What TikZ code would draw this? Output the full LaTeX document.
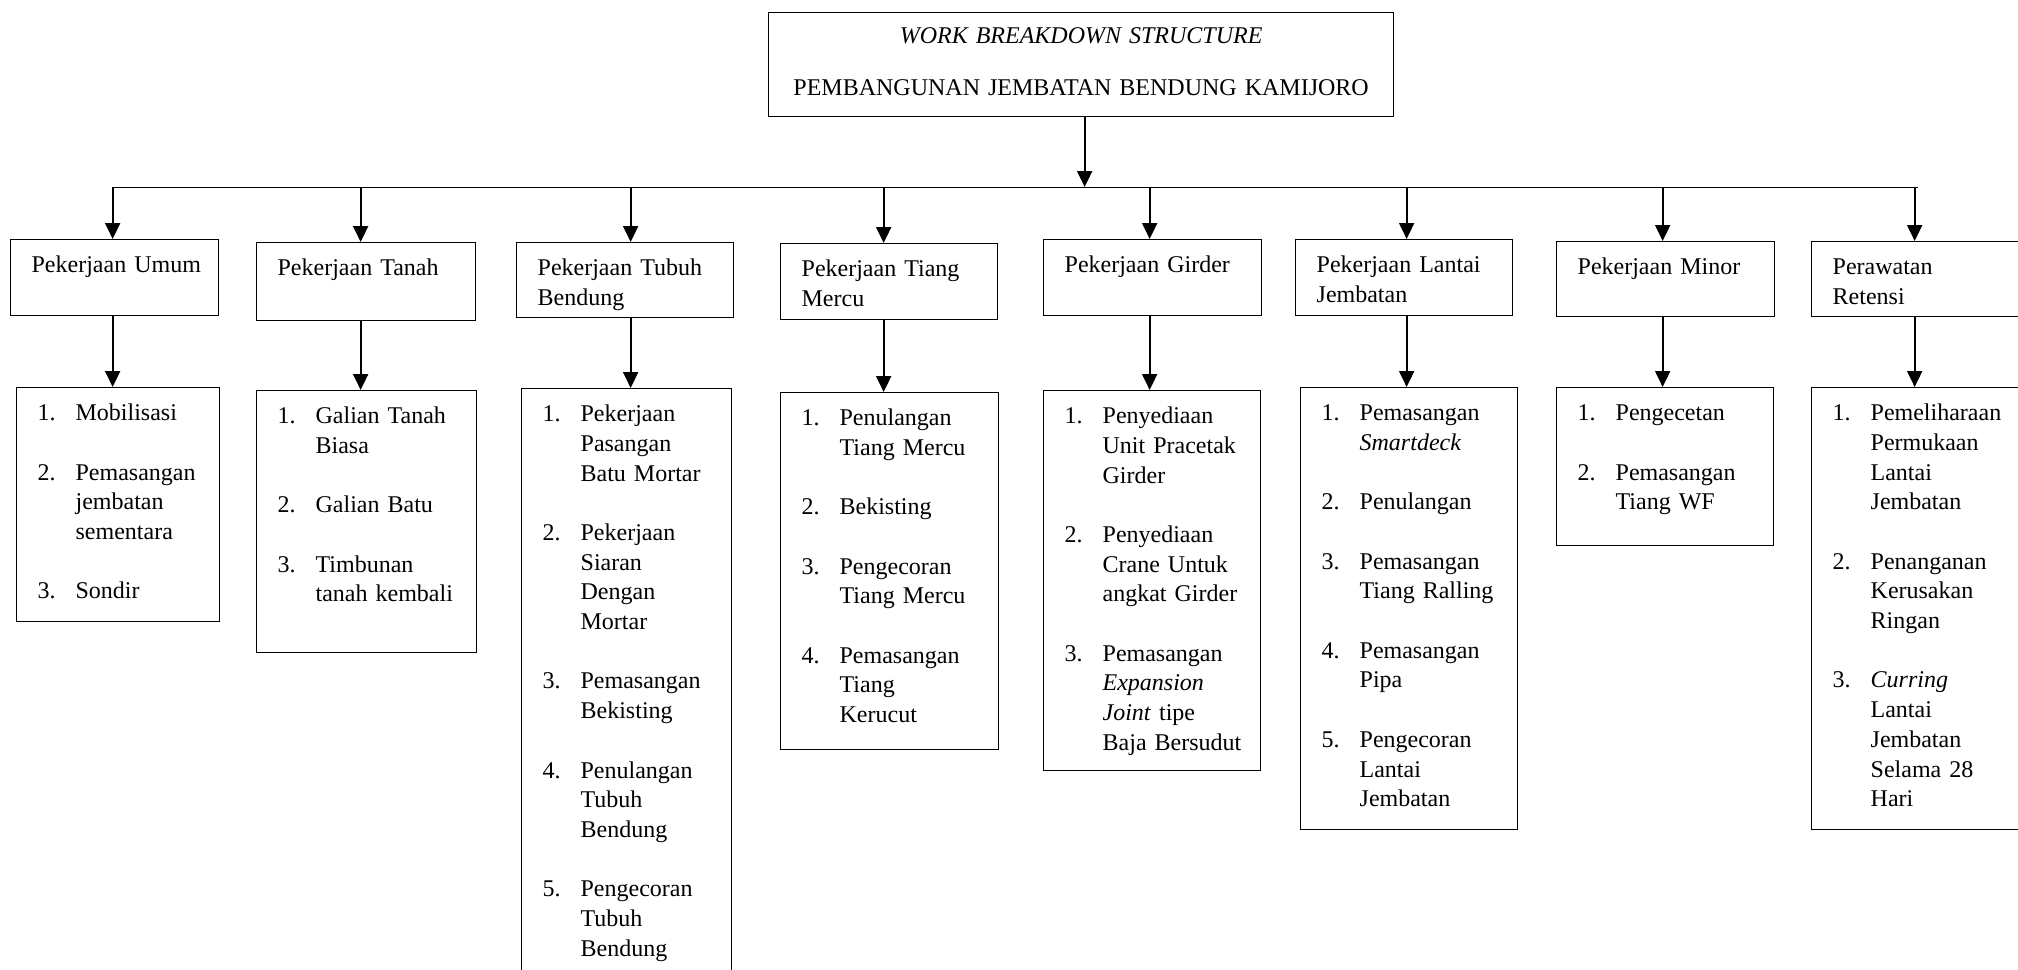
\documentclass[tikz,border=0pt]{standalone}
\usepackage{fontspec}
\setmainfont{Liberation Serif}
\usetikzlibrary{arrows.meta}
\newcommand{\butir}[1]{\makebox[19pt][l]{#1.}}
\newcommand{\lanjut}{\hspace*{19pt}}
\newcommand{\jarak}{14.85pt}

\begin{document}
\begin{tikzpicture}[x=0.5pt,y=-0.5pt,
  font=\fontsize{12pt}{14.85pt}\selectfont,
  kotak/.style={draw, line width=0.65pt, anchor=north west, inner sep=0pt,
    align=left, text height=16.5pt, execute at begin node={\leftskip=10.5pt}},
  panah/.style={line width=1pt, -{Triangle[length=8pt,width=7.5pt]}},
  garis/.style={line width=0.5pt}]
%工作分解結構: 上層方框用座標, 下層清單接在各方框下面
\clip (0,0) rectangle (2018,969);

\node[draw, line width=0.65pt, anchor=north west, inner sep=0pt, align=center,
  text width=312.5pt, text height=15.5pt, text depth=36.5pt] (judul) at (768,12)
  {\textit{WORK BREAKDOWN STRUCTURE}\\[11.15pt]PEMBANGUNAN JEMBATAN BENDUNG KAMIJORO};
\coordinate (cabang) at (0,187);

\foreach \n/\x/\y/\w/\h/\t in
{ umum/10/239/208/76/{Pekerjaan Umum},
  tanah/256/242/219/78/{Pekerjaan Tanah},
  tubuh/516/242/217/75/{Pekerjaan Tubuh\\Bendung},
  mercu/780/243/217/76/{Pekerjaan Tiang\\Mercu},
  girder/1043/239/218/76/{Pekerjaan Girder},
  lantai/1295/239/217/76/{Pekerjaan Lantai\\Jembatan},
  minor/1556/241/218/75/{Pekerjaan Minor},
  retensi/1811/241/216/75/{Perawatan\\Retensi}
}
{
  \pgfmathsetmacro\lebar{\w/2}
  \pgfmathsetmacro\dalam{(\h-33)/2}
  \node[kotak, text width=\lebar pt, text depth=\dalam pt] (\n) at (\x,\y) {\t};
};

\node[kotak, text width=101.5pt, text depth=100.5pt] (umum-isi) at (16,387)
  {\butir{1}Mobilisasi\\[\jarak]
   \butir{2}Pemasangan\\ \lanjut jembatan\\ \lanjut sementara\\[\jarak]
   \butir{3}Sondir};
\node[kotak, text width=110pt, text depth=114.5pt] (tanah-isi) at (256,390)
  {\butir{1}Galian Tanah\\ \lanjut Biasa\\[\jarak]
   \butir{2}Galian Batu\\[\jarak]
   \butir{3}Timbunan\\ \lanjut tanah kembali};
\node[kotak, text width=105pt, text depth=283.5pt] (tubuh-isi) at (521,388)
  {\butir{1}Pekerjaan\\ \lanjut Pasangan\\ \lanjut Batu Mortar\\[\jarak]
   \butir{2}Pekerjaan\\ \lanjut Siaran\\ \lanjut Dengan\\ \lanjut Mortar\\[\jarak]
   \butir{3}Pemasangan\\ \lanjut Bekisting\\[\jarak]
   \butir{4}Penulangan\\ \lanjut Tubuh\\ \lanjut Bendung\\[\jarak]
   \butir{5}Pengecoran\\ \lanjut Tubuh\\ \lanjut Bendung};
\node[kotak, text width=109pt, text depth=162pt] (mercu-isi) at (780,392)
  {\butir{1}Penulangan\\ \lanjut Tiang Mercu\\[\jarak]
   \butir{2}Bekisting\\[\jarak]
   \butir{3}Pengecoran\\ \lanjut Tiang Mercu\\[\jarak]
   \butir{4}Pemasangan\\ \lanjut Tiang\\ \lanjut Kerucut};
\node[kotak, text width=108.5pt, text depth=173.5pt] (girder-isi) at (1043,390)
  {\butir{1}Penyediaan\\ \lanjut Unit Pracetak\\ \lanjut Girder\\[\jarak]
   \butir{2}Penyediaan\\ \lanjut Crane Untuk\\ \lanjut angkat Girder\\[\jarak]
   \butir{3}Pemasangan\\ \lanjut\textit{Expansion}\\ \lanjut\textit{Joint} tipe\\ \lanjut Baja Bersudut};
\node[kotak, text width=108.5pt, text depth=204.5pt] (lantai-isi) at (1300,387)
  {\butir{1}Pemasangan\\ \lanjut\textit{Smartdeck}\\[\jarak]
   \butir{2}Penulangan\\[\jarak]
   \butir{3}Pemasangan\\ \lanjut Tiang Ralling\\[\jarak]
   \butir{4}Pemasangan\\ \lanjut Pipa\\[\jarak]
   \butir{5}Pengecoran\\ \lanjut Lantai\\ \lanjut Jembatan};
\node[kotak, text width=108.5pt, text depth=62.5pt] (minor-isi) at (1556,387)
  {\butir{1}Pengecetan\\[\jarak]
   \butir{2}Pemasangan\\ \lanjut Tiang WF};
\node[kotak, text width=108pt, text depth=204.5pt] (retensi-isi) at (1811,387)
  {\butir{1}Pemeliharaan\\ \lanjut Permukaan\\ \lanjut Lantai\\ \lanjut Jembatan\\[\jarak]
   \butir{2}Penanganan\\ \lanjut Kerusakan\\ \lanjut Ringan\\[\jarak]
   \butir{3}\textit{Curring}\\ \lanjut Lantai\\ \lanjut Jembatan\\ \lanjut Selama 28\\ \lanjut Hari};

\draw[panah] ([xshift=1.75pt]judul.south) -- ([xshift=1.75pt]judul.south |- cabang);
\draw[garis] ([xshift=-1pt]umum.north |- cabang) -- ([xshift=-1pt]retensi.north |- cabang);
\foreach \n/\d in {umum/-1,tanah/-2.75,tubuh/2.75,mercu/-2.75,girder/-1.5,lantai/1.25,minor/-1.5,retensi/-2.5}
{
  \draw[panah] ([xshift=\d pt]\n.north |- cabang) -- ([xshift=\d pt]\n.north);
  \draw[panah] ([xshift=\d pt]\n.south) -- ([xshift=\d pt]\n.south |- \n-isi.north);
};
\end{tikzpicture}
\end{document}
